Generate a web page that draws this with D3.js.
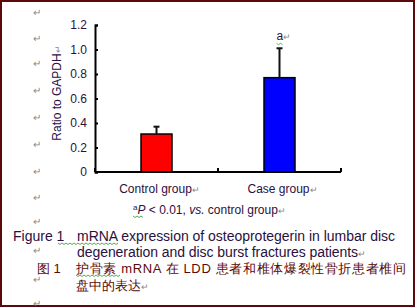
<!DOCTYPE html>
<html>
<head>
<meta charset="utf-8">
<script src="https://cdn.jsdelivr.net/npm/d3@7"></script>
<style>
  body { margin: 0; background: #fff; }
  text { font-family: Arial, "Liberation Sans", sans-serif; }
</style>
</head>
<body>
<div id="chart"></div>
<script>
// data
const groups = ['Control group', 'Case group'];
const means = [0.31, 0.77];
const errors = [0.06, 0.24];
const barColors = ['#ff0000', '#0000ff'];
const yTicks = [0, 0.2, 0.4, 0.6, 0.8, 1.0, 1.2];
const sigMarks = ['', 'a'];

const width = 416;
const height = 308;
const textColor = '#2a1040';
const markColor = '#888';
const squiggle = '#2a9a2a';

const svg = d3.select('#chart')
  .append('svg')
  .attr('width', width)
  .attr('height', height);

// page frame
svg.append('rect')
  .attr('x', 1).attr('y', 1)
  .attr('width', width - 3).attr('height', height - 3)
  .attr('fill', 'none')
  .attr('stroke', '#5a0a0a')
  .attr('stroke-width', 2);

// spell-check squiggles like in the word document
function wavy(x0, x1, y) {
  let d = `M${x0},${y}`;
  for (let x = x0, k = 0; x < x1; x += 2, k++) {
    d += `L${x + 2},${y + (k % 2 ? 0 : 1.5)}`;
  }
  svg.append('path').attr('d', d).attr('fill', 'none')
    .attr('stroke', squiggle).attr('stroke-width', 0.8);
}

// scales
const xScale = d3.scalePoint()
  .domain(groups)
  .range([95, 341])
  .padding(0.5);

const yScale = d3.scaleLinear()
  .domain([0, 1.2])
  .range([172, 25]);

// paragraph marks down the left margin
const markRows = [12, 38, 63, 90, 117, 144, 171, 197, 221, 250, 279, 303];
svg.selectAll('.para')
  .data(markRows)
  .enter()
  .append('text')
  .attr('class', 'para')
  .attr('x', 37)
  .attr('y', d => d + 4)
  .attr('text-anchor', 'middle')
  .attr('font-size', 10)
  .attr('fill', markColor)
  .text('\u21b5');

// bars
const barWidth = 31;
svg.selectAll('.bar')
  .data(groups)
  .enter()
  .append('rect')
  .attr('class', 'bar')
  .attr('x', d => xScale(d) - barWidth / 2)
  .attr('y', (d, i) => yScale(means[i]))
  .attr('width', barWidth)
  .attr('height', (d, i) => yScale(0) - yScale(means[i]))
  .attr('fill', (d, i) => barColors[i])
  .attr('stroke', '#000')
  .attr('stroke-width', 1.5);

// error bars (upper only)
groups.forEach((g, i) => {
  const cx = xScale(g);
  const top = yScale(means[i] + errors[i]);
  svg.append('line')
    .attr('x1', cx).attr('x2', cx)
    .attr('y1', yScale(means[i])).attr('y2', top)
    .attr('stroke', '#111').attr('stroke-width', 2);
  svg.append('line')
    .attr('x1', cx - 3).attr('x2', cx + 3)
    .attr('y1', top).attr('y2', top)
    .attr('stroke', '#111').attr('stroke-width', 2);
  if (sigMarks[i]) {
    const t = svg.append('text')
      .attr('x', cx - 3)
      .attr('y', top - 8)
      .attr('font-size', 12)
      .attr('fill', textColor);
    t.append('tspan').text(sigMarks[i]);
    t.append('tspan').attr('font-size', 9).attr('fill', markColor).text('\u21b5');
    wavy(cx - 3, cx + 3, top - 5);
  }
});

// y axis, ticks inside
const yAxis = svg.append('g')
  .attr('transform', 'translate(95,0)')
  .call(d3.axisRight(yScale)
    .tickValues(yTicks)
    .tickSize(3)
    .tickFormat(d => d === 0 ? '0' : d3.format('.1f')(d)));
yAxis.select('.domain').attr('stroke', '#000').attr('stroke-width', 2);
yAxis.selectAll('.tick line').attr('stroke', '#000').attr('stroke-width', 2);
yAxis.selectAll('.tick text')
  .attr('x', -8)
  .attr('text-anchor', 'end')
  .attr('font-size', 12)
  .attr('font-family', 'Arial, "Liberation Sans", sans-serif')
  .attr('fill', textColor);

// x axis: line with ticks at category boundaries
const xAxisG = svg.append('g');
xAxisG.append('line')
  .attr('x1', 95).attr('x2', 341)
  .attr('y1', yScale(0)).attr('y2', yScale(0))
  .attr('stroke', '#000').attr('stroke-width', 2);
const step = xScale.step();
const bounds = [xScale(groups[0]) - step / 2].concat(groups.map(g => xScale(g) + step / 2));
xAxisG.selectAll('.xtick')
  .data(bounds)
  .enter()
  .append('line')
  .attr('x1', d => d).attr('x2', d => d)
  .attr('y1', yScale(0)).attr('y2', yScale(0) - 4)
  .attr('stroke', '#000').attr('stroke-width', 2);

const xLabels = svg.selectAll('.xlab')
  .data(groups)
  .enter()
  .append('text')
  .attr('class', 'xlab')
  .attr('x', d => xScale(d) + 3)
  .attr('y', 193)
  .attr('text-anchor', 'middle')
  .attr('font-size', 12)
  .attr('fill', textColor);
xLabels.append('tspan').text(d => d);
xLabels.append('tspan').attr('font-size', 9).attr('fill', markColor).text('\u21b5');

// y axis title
const yTitle = svg.append('text')
  .attr('transform', 'translate(61,93) rotate(-90)')
  .attr('text-anchor', 'middle')
  .attr('font-size', 12)
  .attr('fill', textColor);
yTitle.append('tspan').text('Ratio to GAPDH');
yTitle.append('tspan').attr('font-size', 9).attr('fill', markColor).text('\u21b5');

// footnote
const note = svg.append('text')
  .attr('x', 133)
  .attr('y', 214)
  .attr('font-size', 12)
  .attr('fill', textColor);
note.append('tspan').attr('font-size', 8).attr('dy', -4).text('a');
note.append('tspan').attr('font-style', 'italic').attr('dy', 4).text('P');
note.append('tspan').text(' < 0.01, ');
note.append('tspan').attr('font-style', 'italic').text('vs.');
note.append('tspan').text(' control group');
note.append('tspan').attr('font-size', 9).attr('fill', markColor).text('\u21b5');
wavy(133, 143, 216);

// English caption
svg.append('text')
  .attr('x', 13).attr('y', 241)
  .attr('font-size', 14)
  .attr('fill', textColor)
  .text('Figure 1');
svg.append('text')
  .attr('x', 77).attr('y', 241)
  .attr('font-size', 14)
  .attr('fill', textColor)
  .attr('textLength', 318)
  .text('mRNA expression of osteoprotegerin in lumbar disc');
wavy(58, 117, 243);
const cap2 = svg.append('text')
  .attr('x', 77).attr('y', 257)
  .attr('font-size', 14)
  .attr('fill', textColor);
cap2.append('tspan').attr('textLength', 281).text('degeneration and disc burst fractures patients');
cap2.append('tspan').attr('font-size', 9).attr('fill', markColor).text('\u21b5');

// Chinese caption
const cnColor = '#5a0a0a';
const cnFont = '"Noto Sans CJK SC", "Liberation Sans", sans-serif';
svg.append('text')
  .attr('x', 37).attr('y', 273)
  .attr('font-size', 13)
  .attr('font-family', cnFont)
  .attr('fill', cnColor)
  .text('图 1');
svg.append('text')
  .attr('x', 76).attr('y', 273)
  .attr('font-size', 13)
  .attr('font-family', cnFont)
  .attr('fill', cnColor)
  .attr('textLength', 330)
  .text('护骨素 mRNA 在 LDD 患者和椎体爆裂性骨折患者椎间');
wavy(76, 120, 275);
const cn2 = svg.append('text')
  .attr('x', 76).attr('y', 290)
  .attr('font-size', 13)
  .attr('font-family', cnFont)
  .attr('fill', cnColor);
cn2.append('tspan').text('盘中的表达');
cn2.append('tspan').attr('font-size', 9).attr('fill', markColor).text('\u21b5');
</script>
</body>
</html>
